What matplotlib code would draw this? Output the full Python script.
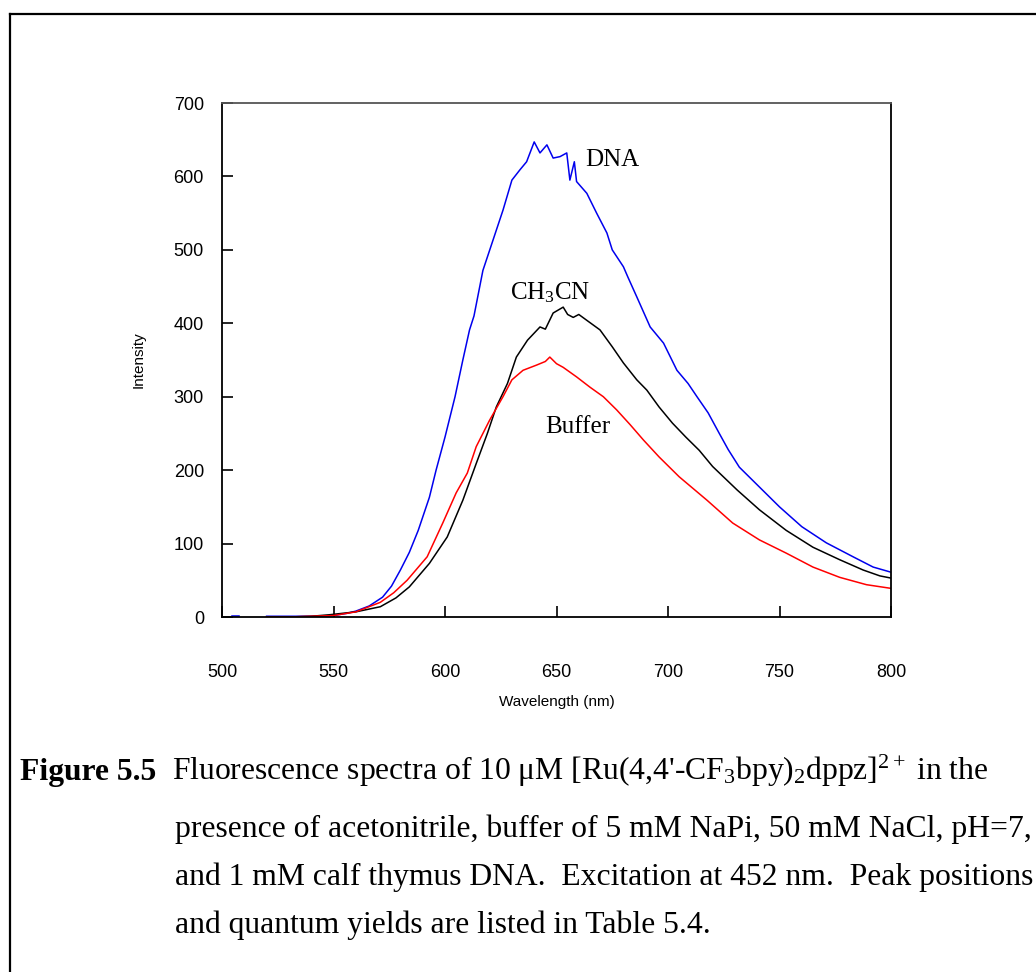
import numpy as np
import matplotlib
matplotlib.use("Agg")
import matplotlib.pyplot as plt
from matplotlib.lines import Line2D

plt.rcParams['mathtext.fontset'] = 'custom'
plt.rcParams['mathtext.rm'] = 'Liberation Serif'
plt.rcParams['mathtext.it'] = 'Liberation Serif:italic'
plt.rcParams['mathtext.bf'] = 'Liberation Serif:bold'

# DNA (blue) - short early blip, then main spectrum
dna_wl_early = [504.5, 506, 507.5]
dna_early = [1, 1, 1]
dna_wl = [520, 530, 540, 550, 556, 560, 566, 572, 576, 580, 584, 588, 593, 596, 600,
          604.5, 608, 611, 613, 617, 621.5, 626, 630, 633.6, 636.6, 640, 642.6, 645.7,
          648.5, 651.6, 654.6, 656, 658, 659, 663.6, 668, 672.6, 675, 680, 682, 686,
          692, 698, 704, 709, 713, 718, 723, 727, 732, 741, 750, 760, 771, 783, 792, 800]
dna_int = [1, 1, 1, 2, 5, 8, 15, 27, 42, 64, 88, 118, 163, 200, 245,
           300, 350, 391, 410, 472, 513, 554, 595, 609, 620, 647, 632, 643,
           625, 627, 632, 595, 620, 593, 577, 550, 523, 500, 477, 463, 436,
           395, 373, 336, 318, 300, 278, 250, 228, 204, 177, 150, 123, 101, 82, 68, 61]

# CH3CN (black)
acn_wl = [520, 530, 540, 548, 560, 571, 578, 584, 593, 601, 608, 614, 619, 623, 628,
          632, 637, 642.6, 645, 648.5, 653, 655, 657.5, 660, 663.6, 669.5, 675, 680,
          686, 690.5, 696, 702, 708, 714, 720, 731, 741, 753, 765, 777, 787.5, 795, 800]
acn_int = [0, 0, 1, 3, 7, 14, 26, 41, 73, 109, 159, 209, 250, 286, 318,
           354, 377, 395, 392, 414, 422, 412, 408, 412, 404, 391, 368, 346,
           323, 309, 286, 264, 245, 227, 205, 173, 146, 118, 95, 78, 64, 56, 53]

# Buffer (red)
buf_wl = [520, 530, 540, 550, 560, 571, 577, 583, 592, 599, 605, 610, 614, 620, 626,
          630, 635, 641, 645, 647, 650, 653, 659, 665, 671, 677, 683, 689, 696, 705,
          717.5, 729, 741, 753, 765, 777, 789, 800]
buf_int = [0, 0, 1, 2, 7, 20, 33, 50, 82, 128, 169, 196, 232, 268, 300,
           323, 336, 343, 348, 354, 345, 340, 327, 313, 300, 282, 262, 241, 218, 191,
           159, 128, 105, 87, 68, 54, 44, 39]

x_ticks = [500, 550, 600, 650, 700, 750, 800]
y_ticks = [0, 100, 200, 300, 400, 500, 600, 700]

fig = plt.figure(figsize=(10.36, 9.72), dpi=100)
ax = fig.add_axes([222/1036, 1 - 617/972, (891 - 222)/1036, (617 - 103)/972])

ax.plot(dna_wl_early, dna_early, color='#0000ee', lw=1.1)
ax.plot(dna_wl, dna_int, color='#0000ee', lw=1.1)
ax.plot(acn_wl, acn_int, color='black', lw=1.1)
ax.plot(buf_wl, buf_int, color='#ff0000', lw=1.1)

ax.set_xlim(500, 800)
ax.set_ylim(0, 700)
ax.set_xticks(x_ticks)
ax.set_yticks(y_ticks)
ax.tick_params(axis='x', direction='in', length=8, width=1.2, pad=34, labelsize=13)
ax.tick_params(axis='y', direction='in', length=8, width=1.2, pad=13, labelsize=13)
for lab in ax.get_xticklabels() + ax.get_yticklabels():
    lab.set_family('Liberation Sans')
for s in ['left', 'bottom', 'right']:
    ax.spines[s].set_color('black')
    ax.spines[s].set_linewidth(1.3)
ax.spines['top'].set_color('#555555')
ax.spines['top'].set_linewidth(1.3)

ax.set_xlabel('Wavelength (nm)', family='Liberation Sans', fontsize=11, labelpad=10)
ax.set_ylabel('Intensity', family='Liberation Sans', fontsize=11, labelpad=20)

ax.text(663, 622, 'DNA', family='Liberation Serif', fontsize=18, va='center')
ax.text(629, 441, r'CH$_3$CN', family='Liberation Serif', fontsize=18, va='center')
ax.text(645, 259, 'Buffer', family='Liberation Serif', fontsize=18, va='center')

# page frame
fig.add_artist(Line2D([10/1036, 10/1036], [0, 1 - 14/972], color='black', lw=1.6,
                      transform=fig.transFigure))
fig.add_artist(Line2D([10/1036, 1], [1 - 14/972, 1 - 14/972], color='black', lw=1.6,
                      transform=fig.transFigure))

# caption
cap = dict(family='Liberation Serif', fontsize=22.8, va='baseline', transform=fig.transFigure)
fig.text(20/1036, 1 - 780/972, 'Figure 5.5', weight='bold', **cap)
fig.text(172/1036, 1 - 780/972,
         "Fluorescence spectra of 10 \u03bcM [Ru(4,4'-CF$_3$bpy)$_2$dppz]$^{2+}$ in the", **cap)
fig.text(175/1036, 1 - 837/972,
         "presence of acetonitrile, buffer of 5 mM NaPi, 50 mM NaCl, pH=7,", **cap)
fig.text(175/1036, 1 - 885/972,
         "and 1 mM calf thymus DNA.  Excitation at 452 nm.  Peak positions", **cap)
fig.text(175/1036, 1 - 933/972,
         "and quantum yields are listed in Table 5.4.", **cap)

fig.savefig('out.png', dpi=100)
